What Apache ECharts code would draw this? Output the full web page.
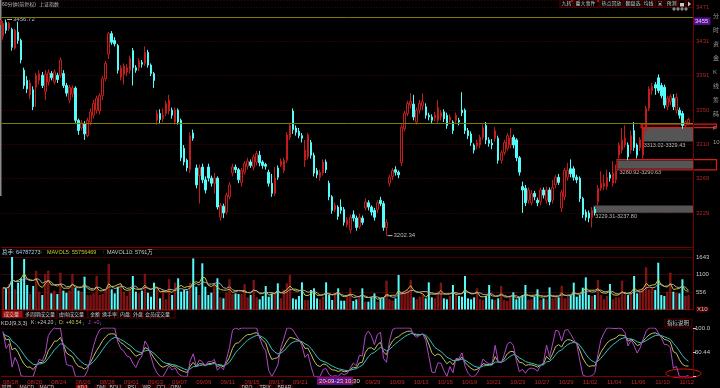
<!DOCTYPE html>
<html><head><meta charset="utf-8">
<script src="https://cdn.jsdelivr.net/npm/echarts@6/dist/echarts.min.js"></script>
<style>html,body{margin:0;padding:0;background:#000;overflow:hidden}#c{width:720px;height:388px}</style>
</head><body><div id="c"></div>
<script>
const tradingDays = ['08/18','08/19','08/20','08/21','08/24','08/25','08/26','08/27','08/28','08/31',
'09/01','09/02','09/03','09/04','09/07','09/08','09/09','09/10','09/11','09/14','09/15','09/16','09/17','09/18','09/21','09/22','09/23','09/24','09/25','09/28','09/29','09/30',
'10/09','10/12','10/13','10/14','10/15','10/16','10/19','10/20','10/21','10/22','10/23','10/26','10/27','10/28','10/29','10/30',
'11/02','11/03','11/04','11/05','11/06','11/09','11/10','11/11','11/12'];
const barTimes = ['10:30','11:30','14:00','15:00'];

const opens = [3437,3453,3446,3445,3423,3442,3432,3397,3385,3368,
3374,3377,3385,3391,3372,3383,3393,3383,3391,3391,
3393,3379,3362,3369,3376,3338,3329,3334,3320,3336,
3344,3350,3349,3367,3387,3416,3440,3432,3426,3389,
3392,3395,3397,3420,3400,3400,3406,3405,3418,3403,
3393,3338,3346,3340,3346,3349,3350,3336,3350,3338,
3305,3291,3280,3323,3282,3273,3283,3268,3283,3270,
3264,3270,3224,3237,3230,3248,3276,3283,3280,3265,
3277,3284,3289,3283,3289,3297,3289,3286,3277,3264,
3252,3282,3285,3279,3291,3318,3349,3329,3325,3320,
3291,3295,3312,3297,3279,3271,3276,3289,3264,3248,
3233,3236,3236,3233,3215,3209,3227,3223,3213,3223,
3235,3241,3236,3232,3233,3244,3240,3212,3264,3272,
3280,3277,3288,3328,3346,3356,3357,3336,3350,3355,
3354,3344,3342,3341,3338,3342,3348,3344,3338,3336,
3338,3338,3350,3350,3326,3322,3309,3308,3309,3318,
3332,3315,3311,3317,3317,3291,3300,3305,3309,3318,
3315,3294,3260,3258,3244,3241,3252,3244,3242,3256,
3244,3256,3244,3262,3271,3235,3248,3271,3281,3281,
3271,3270,3246,3230,3229,3224,3233,3242,3258,3260,
3260,3274,3264,3268,3297,3303,3309,3309,3303,3326,
3309,3306,3297,3326,3352,3373,3380,3388,3379,3377,
3354,3360,3364,3350,3350,3346,3332,3335];
const closes = [3452,3444,3452,3424,3444,3432,3409,3379,3375,3382,
3354,3391,3393,3379,3392,3394,3388,3395,3386,3409,
3379,3370,3377,3376,3338,3326,3335,3322,3338,3348,
3358,3364,3367,3387,3405,3440,3430,3428,3397,3400,
3402,3400,3411,3400,3397,3408,3404,3418,3403,3393,
3385,3346,3339,3344,3358,3362,3344,3350,3336,3294,
3289,3282,3320,3317,3262,3282,3268,3256,3270,3264,
3270,3236,3238,3229,3250,3262,3283,3280,3268,3279,
3287,3290,3285,3295,3299,3288,3285,3284,3264,3252,
3270,3271,3290,3291,3321,3332,3327,3324,3320,3317,
3303,3321,3297,3276,3274,3277,3289,3280,3248,3232,
3238,3225,3232,3218,3221,3224,3223,3212,3224,3218,
3242,3236,3230,3224,3241,3240,3212,3218,3271,3279,
3277,3274,3330,3346,3358,3360,3342,3350,3358,3360,
3344,3342,3338,3344,3353,3347,3340,3332,3342,3326,
3344,3336,3347,3326,3320,3312,3303,3312,3318,3329,
3315,3311,3309,3326,3291,3300,3312,3320,3317,3309,
3294,3277,3256,3241,3256,3252,3248,3241,3256,3250,
3256,3242,3259,3271,3265,3253,3279,3279,3275,3271,
3268,3246,3227,3224,3223,3232,3229,3258,3264,3264,
3271,3270,3276,3279,3309,3315,3317,3295,3320,3306,
3297,3315,3330,3352,3375,3378,3376,3373,3367,3356,
3364,3366,3354,3365,3344,3332,3336,3339];
const lows = [3433,3440,3443,3420,3421,3428,3405,3375,3370,3363,
3350,3354,3380,3376,3362,3379,3385,3380,3382,3388,
3376,3366,3358,3365,3335,3321,3326,3315,3318,3332,
3340,3346,3345,3362,3384,3410,3427,3425,3393,3385,
3380,3390,3393,3379,3394,3396,3400,3402,3400,3390,
3376,3333,3334,3336,3343,3345,3340,3333,3333,3290,
3285,3278,3276,3314,3258,3240,3264,3252,3266,3260,
3252,3233,3220,3223,3227,3245,3272,3276,3264,3260,
3274,3280,3282,3279,3285,3284,3281,3280,3260,3248,
3249,3268,3283,3276,3288,3315,3322,3320,3317,3312,
3283,3292,3293,3272,3270,3267,3273,3276,3244,3228,
3230,3221,3228,3214,3212,3205,3219,3208,3210,3215,
3232,3232,3226,3220,3229,3237,3208,3202.34,3260,3268,
3273,3270,3284,3325,3343,3352,3338,3333,3346,3350,
3340,3338,3334,3337,3335,3338,3336,3328,3334,3322,
3335,3332,3343,3322,3316,3308,3299,3304,3305,3315,
3310,3307,3304,3313,3287,3287,3297,3302,3305,3305,
3290,3273,3229,3237,3240,3238,3244,3237,3238,3246,
3240,3238,3240,3258,3262,3230,3244,3267,3271,3267,
3264,3242,3223,3220,3218,3212,3226,3238,3255,3256,
3256,3266,3260,3264,3293,3299,3306,3291,3299,3302,
3293,3302,3293,3322,3349,3368,3368,3370,3364,3352,
3350,3356,3350,3346,3340,3328,3329,3332];
const highs = [3455,3456.72,3454,3447,3446,3454,3434,3400,3390,3386,
3378,3394,3397,3395,3397,3398,3396,3398,3394,3412,
3397,3382,3380,3379,3378,3340,3338,3337,3341,3352,
3362,3367,3370,3390,3408,3442,3443,3436,3428,3403,
3405,3404,3414,3423,3403,3411,3409,3425,3421,3405,
3395,3350,3351,3352,3361,3368,3353,3353,3352,3340,
3309,3293,3324,3327,3286,3286,3287,3272,3287,3273,
3276,3272,3241,3240,3253,3265,3287,3286,3282,3282,
3290,3294,3292,3298,3302,3302,3291,3288,3280,3275,
3283,3285,3293,3294,3324,3335,3352,3332,3329,3323,
3315,3323,3315,3300,3282,3280,3292,3292,3267,3250,
3241,3238,3245,3236,3224,3227,3232,3226,3228,3226,
3246,3244,3238,3235,3244,3248,3243,3222,3274,3282,
3284,3279,3333,3349,3361,3370,3368,3353,3362,3370,
3358,3347,3345,3348,3362,3350,3351,3347,3345,3338,
3347,3341,3371,3352,3329,3325,3311,3315,3321,3333,
3336,3318,3316,3330,3320,3303,3315,3323,3329,3321,
3317,3296,3266,3262,3259,3256,3255,3247,3259,3259,
3260,3259,3268,3274,3275,3256,3282,3288,3292,3284,
3274,3272,3248,3233,3232,3236,3236,3262,3278,3274,
3280,3277,3290,3286,3312,3329,3332,3312,3326,3336,
3311,3318,3333,3355,3378,3382,3383,3392,3382,3380,
3367,3369,3369,3370,3353,3349,3338,3341];
const volumes = [690,649,795,1643,639,846,981,1580,773,493,
742,1208,566,462,1106,1218,514,597,493,1155,
597,534,597,1115,690,597,566,1032,462,462,
514,1053,462,493,618,1425,639,514,721,795,
566,431,618,1053,566,514,597,1115,534,410,
846,639,359,618,328,950,462,846,981,566,
618,597,846,1600,721,462,1447,721,462,534,
804,981,390,359,534,950,493,514,493,493,
795,390,462,929,390,328,431,742,410,514,
514,825,359,618,825,1084,359,328,431,856,
307,307,618,670,359,328,410,856,462,307,
493,670,286,286,431,670,276,328,410,670,
255,255,390,514,255,359,390,908,328,286,
359,1084,566,566,618,929,390,328,410,462,
359,856,390,359,566,846,359,328,431,773,
514,431,410,1053,359,328,390,670,328,307,
431,773,328,307,359,742,307,276,410,546,
328,390,462,773,307,328,410,639,307,359,
328,701,359,410,390,742,359,390,462,846,
410,462,690,1011,462,431,462,929,462,328,
431,804,328,390,390,908,462,462,514,1053,
514,566,670,1322,639,670,618,1466,462,431,
566,1155,566,534,514,950,431,462];
const kdjStart = [92, 88];
const refLines = [3459, 3335];
const zones = [
  {lo:3313.02, hi:3329.43, start:212, label:'3313.02-3329.43', box:'top'},
  {lo:3280.92, hi:3290.63, start:204, label:'3280.92-3290.63', box:'around'},
  {lo:3229.31, hi:3237.80, start:196, label:'3229.31-3237.80', box:null}
];
const crossIdx = 104;
const crossPrice = 3455;
const sideChars = ['分','时','资','金','K','线','筹','码','F','10'];

const N = opens.length;
const cats = [];
for (let d = 0; d < tradingDays.length; d++) for (let t = 0; t < 4; t++) cats.push(tradingDays[d] + ' ' + barTimes[t]);
cats.length = N;
const catsAxis = cats.concat(['']);
const candle = opens.map((o, i) => [o, closes[i], lows[i], highs[i]]);
const isUp = i => closes[i] >= opens[i];
const volData = volumes.map((v, i) => ({value: v, itemStyle: isUp(i) ? {color: '#5e0a0a', borderColor: '#c02222', borderWidth: 0.6} : {color: '#54fcfc'}}));
function ma(arr, n) { return arr.map((_, i) => { const s = Math.max(0, i - n + 1); let t = 0; for (let j = s; j <= i; j++) t += arr[j]; return t / (i - s + 1); }); }
const mav5 = ma(volumes, 5), mav10 = ma(volumes, 10);
const K = [], D = [], J = [];
let kk = kdjStart[0], dd = kdjStart[1];
for (let i = 0; i < N; i++) {
  let lo = Infinity, hi = -Infinity;
  for (let j = Math.max(0, i - 8); j <= i; j++) { lo = Math.min(lo, lows[j]); hi = Math.max(hi, highs[j]); }
  const rsv = hi > lo ? (closes[i] - lo) / (hi - lo) * 100 : 50;
  kk = (2 * kk + rsv) / 3; dd = (2 * dd + kk) / 3;
  K.push(+kk.toFixed(2)); D.push(+dd.toFixed(2)); J.push(+Math.max(0, Math.min(100, 3 * kk - 2 * dd)).toFixed(2));
}

const F = "'Liberation Sans','Noto Sans CJK SC',sans-serif";
const RED = '#7a0000';
const GRID_L = 1.5, GRID_W = 691.5, GRID_R = GRID_L + GRID_W;

const chart = echarts.init(document.getElementById('c'), null, {renderer: 'canvas'});
const hideAxis = (gi) => ({type: 'category', gridIndex: gi, data: catsAxis, boundaryGap: true,
  axisLine: {show: true, lineStyle: {color: RED, width: 1}}, axisTick: {show: false}, axisLabel: {show: false}, splitLine: {show: false}});
chart.setOption({
  backgroundColor: '#000',
  animation: false,
  grid: [
    {left: GRID_L, width: GRID_W, top: 0, height: 247.3},
    {left: GRID_L, width: GRID_W, top: 249, height: 60.5},
    {left: GRID_L, width: GRID_W, top: 328, height: 48}
  ],
  xAxis: [hideAxis(0), hideAxis(1), {
    type: 'category', gridIndex: 2, data: catsAxis, boundaryGap: true,
    axisLine: {show: true, lineStyle: {color: RED, width: 1}}, axisTick: {show: false},
    axisLabel: {show: true, interval: 0, align: 'left', margin: 3, color: '#c02828', fontSize: 6, fontFamily: F,
      formatter: (v, i) => (i % 8 === 0 && v) ? v.slice(0, 5) : ''},
    splitLine: {show: false}
  }],
  yAxis: [
    {type: 'value', gridIndex: 0, position: 'right', min: 3188.6, max: 3479.6, interval: 40.4,
     axisLine: {show: true, lineStyle: {color: RED}}, axisTick: {show: false},
     axisLabel: {color: '#b02424', fontSize: 6, fontFamily: F, margin: 3, showMinLabel: false, showMaxLabel: false,
       formatter: v => (v < 3200 || v > 3475) ? '' : String(Math.round(v))},
     splitLine: {show: true, lineStyle: {color: '#4a0606', type: [1, 2], width: 1}}},
    {type: 'value', gridIndex: 1, position: 'right', min: 12.5, max: 1891.5, interval: 543.5,
     axisLine: {show: true, lineStyle: {color: RED}}, axisTick: {show: false},
     axisLabel: {color: '#c8c8c8', fontSize: 6, fontFamily: F, margin: 3, showMaxLabel: false,
       formatter: v => v < 100 ? '{x|X10}' : (v > 1800 ? '' : String(Math.round(v))),
       rich: {x: {backgroundColor: '#4a0000', color: '#c8c8c8', fontSize: 6, fontFamily: F, padding: [0, 1]}}},
     splitLine: {show: true, lineStyle: {color: '#3c0404', width: 1}}},
    {type: 'value', gridIndex: 2, position: 'right', min: 0.88, max: 100.001, interval: 49.56,
     axisLine: {show: true, lineStyle: {color: RED}}, axisTick: {show: true, length: 3, lineStyle: {color: '#c8c8c8'}},
     axisLabel: {color: '#c8c8c8', fontSize: 6, fontFamily: F, margin: 2, showMaxLabel: true,
       formatter: v => v < 5 ? '' : (v > 99 ? '100.0' : v.toFixed(2))},
     splitLine: {show: true, lineStyle: {color: '#3c0404', type: [1, 2], width: 1}}}
  ],
  series: [
    {type: 'candlestick', xAxisIndex: 0, yAxisIndex: 0, data: candle, barWidth: 2,
     itemStyle: {color: '#000', color0: '#54fcfc', borderColor: '#c41c1c', borderColor0: '#54fcfc', borderWidth: 1},
     markLine: {silent: true, symbol: 'none', label: {show: false}, lineStyle: {color: '#7c7c00', width: 1, type: 'solid'},
       data: refLines.map(v => ({yAxis: v}))}},
    {type: 'bar', xAxisIndex: 1, yAxisIndex: 1, data: volData, barWidth: 2},
    {type: 'line', xAxisIndex: 1, yAxisIndex: 1, data: mav5, symbol: 'none', lineStyle: {color: '#c8c832', width: 1}},
    {type: 'line', xAxisIndex: 1, yAxisIndex: 1, data: mav10, symbol: 'none', lineStyle: {color: '#a8a8a8', width: 1}},
    {type: 'line', xAxisIndex: 2, yAxisIndex: 2, data: K, symbol: 'none', lineStyle: {color: '#c0c060', width: 1}},
    {type: 'line', xAxisIndex: 2, yAxisIndex: 2, data: D, symbol: 'none', lineStyle: {color: '#38c0c0', width: 1}},
    {type: 'line', xAxisIndex: 2, yAxisIndex: 2, data: J, symbol: 'none', lineStyle: {color: '#b048c8', width: 1}}
  ]
});

const P = (idx, v) => chart.convertToPixel({xAxisIndex: 0, yAxisIndex: 0}, [idx, v]);
const g = [];
const txt = (x, y, s, color, size, opts) => g.push(Object.assign({type: 'text', x, y, silent: true,
  style: Object.assign({text: s, fill: color, fontSize: size || 6, fontFamily: F, textVerticalAlign: 'middle'}, opts || {})}));
const rect = (x, y, w, h, style) => g.push({type: 'rect', silent: true, shape: {x, y, width: w, height: h}, style});
const line = (x1, y1, x2, y2, stroke, w) => g.push({type: 'line', silent: true, shape: {x1, y1, x2, y2}, style: {stroke, lineWidth: w || 1}});

// zones
const band = GRID_W / catsAxis.length;
zones.forEach(z => {
  const pTop = P(z.start, z.hi), pBot = P(z.start, z.lo);
  const x0 = pTop[0] - band / 2;
  rect(x0, pTop[1], GRID_R - x0, pBot[1] - pTop[1], {fill: '#555555'});
  txt(x0 + 2, pBot[1] + 4, z.label, '#bdbdbd', 5.5);
  if (z.box === 'top') rect(x0 - 0.5, pTop[1] - 3.5, 717 - x0, 3.5, {fill: 'none', stroke: '#e01818', lineWidth: 1.2});
  if (z.box === 'around') rect(x0 - 0.5, pTop[1] - 1, 717 - x0, pBot[1] - pTop[1] + 2, {fill: 'none', stroke: '#e01818', lineWidth: 1.2});
});
// high / low labels
let hiI = 0, loI = 0;
for (let i = 0; i < N; i++) { if (highs[i] > highs[hiI]) hiI = i; if (lows[i] < lows[loI]) loI = i; }
const ph = P(hiI, highs[hiI]), pl = P(loI, lows[loI]);
line(ph[0] + 1, ph[1], ph[0] + 6, ph[1], '#bdbdbd');
txt(ph[0] + 7, ph[1], highs[hiI].toFixed(2), '#bdbdbd', 6);
line(pl[0] + 1, pl[1], pl[0] + 6, pl[1], '#bdbdbd');
txt(pl[0] + 7, pl[1], lows[loI].toFixed(2), '#bdbdbd', 6);
// crosshair price label
const pc = P(0, crossPrice);
rect(GRID_R + 0.5, pc[1] - 3.5, 17, 7.5, {fill: '#5a1090'});
txt(GRID_R + 2, pc[1], String(crossPrice), '#e0d0ff', 6);
// crosshair date label
const pd = chart.convertToPixel({xAxisIndex: 2, yAxisIndex: 2}, [crossIdx, 50]);
rect(pd[0], 377, 36, 8, {fill: '#5a1090'});
txt(pd[0] + 2, 381, '20-' + cats[crossIdx].replace('/', '-'), '#e8e8e8', 6);

// title
txt(2, 4.5, '60分钟(前复权)', '#bdbdbd', 5);
txt(39, 4.5, '上证指数', '#bdbdbd', 5);
// left scrollbar
rect(0, 0, 1.5, 196, {fill: '#8a8a8a'});
rect(0, 20, 1.5, 5, {fill: '#c02020'});
// right side vertical tab characters (cut by the window edge)
sideChars.forEach((c, i) => txt(713, 16 + i * 14, c, '#9a9a9a', 6));
// top buttons
[['九转', 560, 573], ['重大事件', 574, 599], ['热点回放', 600, 623], ['翻盘选', 624, 642], ['均线', 642, 655], ['▣', 656, 663], ['预测', 665, 677], ['', 678, 685], ['', 686, 693]].forEach(b => {
  rect(b[1], 0, b[2] - b[1], 7.5, {fill: '#000', stroke: '#5a0000', lineWidth: 1});
  txt(b[1] + 1.5, 4, b[0], '#c8c8c8', 5);
});
g.push({type: 'circle', silent: true, shape: {cx: 572, cy: 1, r: 1}, style: {fill: '#e01010'}});
g.push({type: 'circle', silent: true, shape: {cx: 598, cy: 1, r: 1}, style: {fill: '#e01010'}});
rect(680, 3, 4, 3.5, {fill: '#c8c8c8'});
g.push({type: 'polygon', silent: true, shape: {points: [[688, 1.5], [691, 4], [688, 6.5]]}, style: {fill: '#c8c8c8'}});
txt(672, 10, '◆◆◆◆', '#8a8a8a', 4);

// volume header
txt(2, 252.5, '总手: 64787273', '#a8d8f0', 5.5);
txt(40, 252.5, '↑', '#e02020', 5.5);
txt(47, 252.5, 'MAVOL5: 55756469', '#c8c832', 5.5);
txt(102, 252.5, '↑', '#e02020', 5.5);
txt(107, 252.5, 'MAVOL10: 5761万', '#c8c8c8', 5.5);
txt(143, 252.5, '↑', '#e02020', 5.5);
// volume tabs
[['成交量', 2, 23, 1], ['多周期成交量', 23, 57], ['虚拟成交量', 57, 88], ['金额', 88, 100], ['换手率', 100, 118], ['内盘', 118, 131], ['外盘', 131, 143], ['会员成交量', 143, 175]].forEach(t => {
  rect(t[1], 310.5, t[2] - t[1], 7.5, {fill: t[3] ? '#a01010' : '#000', stroke: '#5a0000', lineWidth: 1});
  txt(t[1] + 2, 314.5, t[0], '#d0d0d0', 5);
});
// KDJ header
txt(1, 323, 'KDJ(9,3,3)', '#c8c8c8', 5.5);
txt(31, 323, 'K: +24.20', '#c8c8c8', 5.2);
txt(54, 323, '↓', '#38c0c0', 5.5);
txt(59, 323, 'D: +40.54', '#c0c060', 5.2);
txt(82, 323, '↓', '#38c0c0', 5.5);
txt(88, 323, 'J: +0', '#b048c8', 5.2);
txt(99, 323, '↓', '#38c0c0', 5.5);
rect(665, 319, 27, 8, {fill: '#000', stroke: '#5a0000', lineWidth: 1});
txt(667, 323, '指标说明', '#c8c8c8', 5.5);
// red ellipse
g.push({type: 'ellipse', silent: true, shape: {cx: 683.5, cy: 373.5, rx: 17.5, ry: 4.5}, style: {fill: 'none', stroke: '#e01010', lineWidth: 1}});
// bottom indicator tabs (partially visible)
[['常用', 0, 12], ['MACD', 18, 30], ['MACD', 38, 52], ['KDJ', 76, 88, 1], ['DMI', 95, 106], ['BOLL', 108, 122], ['RSI', 126, 138], ['WR', 141, 152], ['CCI', 155, 166], ['OBV', 169, 180], ['DPO', 240, 252], ['TRIX', 258, 272], ['BRAR', 276, 292]].forEach(t => {
  rect(t[1], 385, t[2] - t[1], 6, {fill: t[3] ? '#a01010' : '#000', stroke: '#5a0000', lineWidth: 1});
  txt(t[1] + 1.5, 388, t[0], '#c8c8c8', 5);
});
chart.setOption({graphic: g});
</script></body></html>
